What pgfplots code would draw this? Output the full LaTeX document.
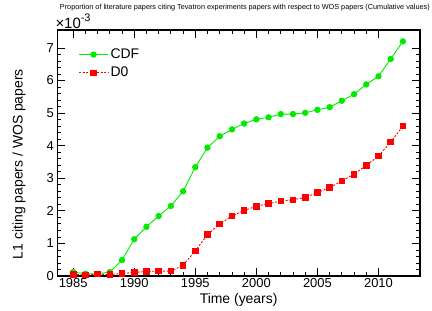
\documentclass[border=0pt]{standalone}
\usepackage{fontspec}
\setmainfont{Liberation Sans}
\usepackage{pgfplots}
\pgfplotsset{compat=1.18}
\definecolor{rgreen}{RGB}{0,235,0}
\definecolor{rred}{RGB}{255,0,0}
\begin{document}
\begin{tikzpicture}
\useasboundingbox (0bp,0bp) rectangle (432bp,311bp);
\node[font=\fontsize{7.3}{8}\selectfont, inner sep=0pt, anchor=east] at (430bp,303bp) {Proportion of literature papers citing Tevatron experiments papers with respect to WOS papers (Cumulative values)};
\begin{axis}[
  name=ax,
  at={(57.3bp,35bp)}, anchor=south west,
  scale only axis, width=362.7bp, height=246bp,
  xmin=1983.7, xmax=2013.4, ymin=0, ymax=7.55,
  xtick={1985,1990,1995,2000,2005,2010},
  ytick={0,1,2,3,4,5,6,7},
  minor x tick num=4, minor y tick num=4,
  tick align=inside,
  major tick length=8bp, minor tick length=4bp,
  every tick/.style={black, line width=0.8bp},
  axis line style={line width=1.1bp},
  /pgf/number format/assume math mode=true,
  /pgf/number format/1000 sep={},
  ticklabel style={font=\fontsize{13}{14}\selectfont},
  xticklabel style={yshift=1bp},
  xlabel={Time (years)},
  ylabel={L1 citing papers / WOS papers},
  label style={font=\fontsize{14}{16}\selectfont},
  xlabel style={at={(axis description cs:0.5,-0.097)}, anchor=center},
  ylabel style={at={(axis description cs:-0.1056,0.455)}, anchor=center},
  legend style={at={(axis description cs:0.05,0.94)}, anchor=north west, draw=none, fill=none,
    font=\fontsize{14}{16}\selectfont, row sep=3bp, legend cell align=left},
  legend image code/.code={\draw[mark repeat=2,mark phase=2] plot coordinates {(0bp,0bp)(14.5bp,0bp)(29bp,0bp)};},
]
\addplot[color=rgreen, line width=0.9bp, mark=*, mark size=2.7bp, mark options={solid}] coordinates {
(1985,0.12)(1986,0.07)(1987,0.07)(1988,0.12)(1989,0.49)(1990,1.13)(1991,1.51)(1992,1.84)(1993,2.15)(1994,2.60)
(1995,3.34)(1996,3.94)(1997,4.29)(1998,4.50)(1999,4.68)(2000,4.81)(2001,4.87)(2002,4.97)(2003,4.97)(2004,5.01)
(2005,5.10)(2006,5.18)(2007,5.38)(2008,5.58)(2009,5.88)(2010,6.13)(2011,6.66)(2012,7.20)};
\addlegendentry{CDF}
\addplot[color=rred, line width=0.9bp, dash pattern=on 2bp off 1.6bp, mark=square*, mark size=2.8bp, mark options={solid}] coordinates {
(1985,0.05)(1986,0.03)(1987,0.06)(1988,0.04)(1989,0.08)(1990,0.11)(1991,0.14)(1992,0.15)(1993,0.15)(1994,0.33)
(1995,0.77)(1996,1.27)(1997,1.60)(1998,1.84)(1999,2.01)(2000,2.14)(2001,2.22)(2002,2.30)(2003,2.34)(2004,2.41)
(2005,2.56)(2006,2.71)(2007,2.92)(2008,3.12)(2009,3.40)(2010,3.68)(2011,4.11)(2012,4.60)};
\addlegendentry{D0}
\end{axis}
\node[anchor=south west, inner sep=0pt, xshift=-2bp, yshift=1.5bp, font=\fontsize{15}{16}\selectfont] at (ax.north west) {×10\raisebox{0.45em}{\fontsize{11}{12}\selectfont -3}};
\end{tikzpicture}
\end{document}
